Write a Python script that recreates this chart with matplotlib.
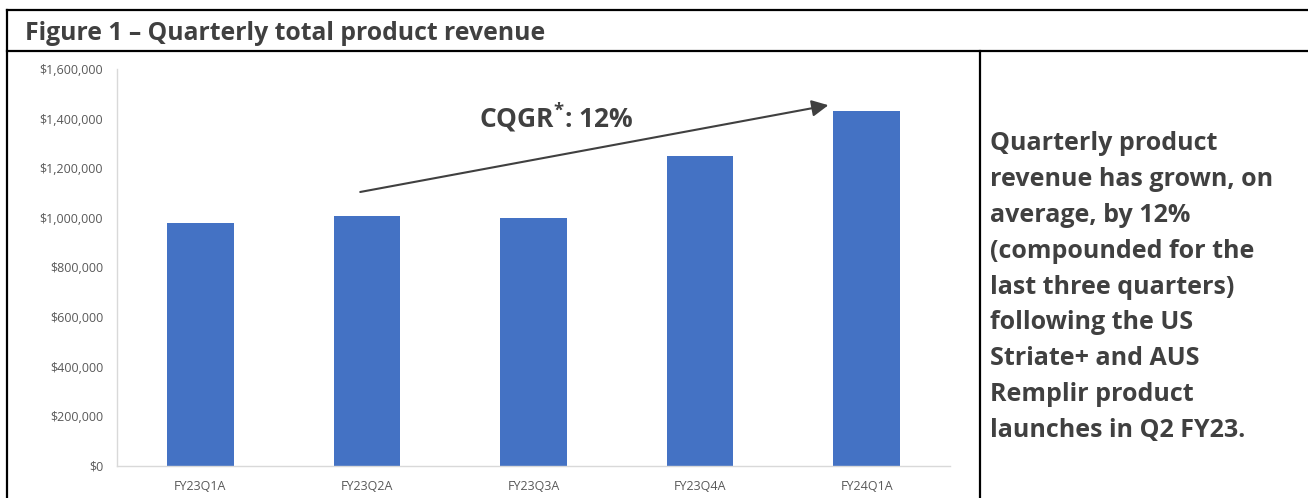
import numpy as np
import matplotlib.pyplot as plt
from matplotlib.lines import Line2D

# ====================== DATA ======================
quarters = ["FY23Q1A", "FY23Q2A", "FY23Q3A", "FY23Q4A", "FY24Q1A"]
revenue = [980000, 1008000, 1000000, 1250000, 1431000]
y_ticks = [0, 200000, 400000, 600000, 800000, 1000000, 1200000, 1400000, 1600000]

title = "Figure 1 \u2013 Quarterly total product revenue"
growth_label = r"CQGR$^{*}$: 12%"
side_lines = [
    "Quarterly product",
    "revenue has grown, on",
    "average, by 12%",
    "(compounded for the",
    "last three quarters)",
    "following the US",
    "Striate+ and AUS",
    "Remplir product",
    "launches in Q2 FY23.",
]

# ====================== STYLE ======================
plt.rcParams['font.family'] = ['Open Sans', 'DejaVu Sans']
plt.rcParams['mathtext.fontset'] = 'custom'
plt.rcParams['mathtext.rm'] = 'Open Sans:bold'
plt.rcParams['mathtext.bf'] = 'Open Sans:bold'
plt.rcParams['mathtext.default'] = 'bf'

W, H = 1308, 498
BAR = '#4472C4'
TXT = '#404040'
AXC = '#D9D9D9'
LAB = '#595959'

fig = plt.figure(figsize=(W / 100, H / 100), dpi=100)

def fx(px):
    return px / W

def fy(py):
    return 1 - py / H

# frame lines (table borders)
lw = 1.6
fig.add_artist(Line2D([fx(7), 1], [fy(10), fy(10)], color='black', lw=lw))
fig.add_artist(Line2D([fx(7), 1], [fy(51), fy(51)], color='black', lw=lw))
fig.add_artist(Line2D([fx(7), fx(7)], [fy(10), 0], color='black', lw=lw))
fig.add_artist(Line2D([fx(980), fx(980)], [fy(51), 0], color='black', lw=lw))

fig.text(fx(25), fy(33), title, fontsize=17.8, fontweight='bold', color=TXT,
         ha='left', va='center')

# ====================== CHART ======================
ax = fig.add_axes([fx(117), fy(465.7), fx(950 - 117), (465.7 - 69) / H])
x = np.arange(len(quarters))
ax.bar(x, revenue, width=0.4, color=BAR, zorder=2)

ax.set_xlim(-0.5, len(quarters) - 0.5)
ax.set_ylim(0, 1600000)
ax.set_yticks(y_ticks)
ax.set_yticklabels([f"${v:,.0f}" for v in y_ticks])
ax.set_xticks(x)
ax.set_xticklabels(quarters)
ax.tick_params(axis='both', length=0, labelsize=9, labelcolor=LAB)
ax.tick_params(axis='y', pad=10)
ax.tick_params(axis='x', pad=10)
for s in ['top', 'right']:
    ax.spines[s].set_visible(False)
for s in ['left', 'bottom']:
    ax.spines[s].set_color(AXC)
    ax.spines[s].set_linewidth(1.0)

# growth arrow from Q2 towards Q5
ax.annotate("", xy=(3.77, 1454000), xytext=(0.96, 1104000),
            arrowprops=dict(arrowstyle='-|>', color=TXT, lw=1.5,
                            mutation_scale=25, shrinkA=0, shrinkB=0))
ax.text(2.14, 1405000, growth_label, fontsize=19, fontweight='bold',
        color=TXT, ha='center', va='center')

# ====================== SIDE TEXT ======================
fig.text(fx(990), fy(287), "\n".join(side_lines), fontsize=18,
         fontweight='bold', color=TXT, ha='left', va='center', linespacing=1.57)

plt.savefig('out.png', dpi=100)
plt.close()
